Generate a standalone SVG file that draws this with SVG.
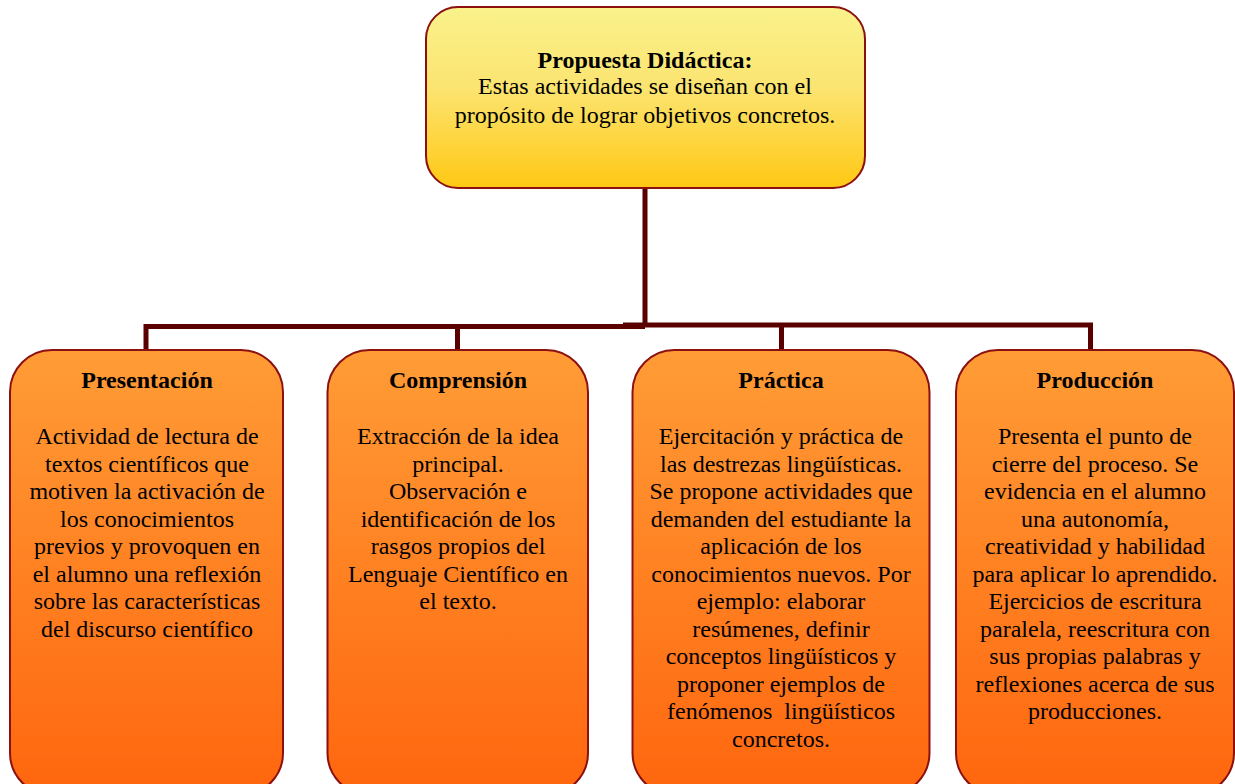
<svg xmlns="http://www.w3.org/2000/svg" width="1235" height="784" viewBox="0 0 1235 784">
<defs>
<linearGradient id="gTop" x1="0" y1="0" x2="0" y2="1">
<stop offset="0" stop-color="#FAF28C"/>
<stop offset="0.45" stop-color="#FBE470"/>
<stop offset="1" stop-color="#FFC813"/>
</linearGradient>
<linearGradient id="gBox" x1="0" y1="0" x2="0" y2="1">
<stop offset="0" stop-color="#FF9C36"/>
<stop offset="1" stop-color="#FF660E"/>
</linearGradient>
</defs>
<style>
.top{fill:url(#gTop);stroke:#8B1010;stroke-width:2}
.box{fill:url(#gBox);stroke:#8B1010;stroke-width:2}
.conn{stroke:#5A0000;stroke-width:5;fill:none;stroke-linecap:butt}
text{font-family:"Liberation Serif","Times New Roman",serif;fill:#000;text-anchor:middle;font-size:24px}
.t{font-weight:bold}
</style>
<rect width="1235" height="784" fill="#fff"/>
<g id="connectors">
<line class="conn" x1="645" y1="188" x2="645" y2="326"/>
<polyline class="conn" points="146,350 146,326.5 645,326.5"/>
<line class="conn" x1="457.5" y1="326.5" x2="457.5" y2="350"/>
<polyline class="conn" points="623,325 1090.5,325 1090.5,350"/>
<line class="conn" x1="781.5" y1="325" x2="781.5" y2="350"/>
</g>
<g id="top">
<rect class="top" x="426" y="7" width="439" height="181" rx="32"/>
<text class="t" x="645" y="68">Propuesta Didáctica:</text>
<text x="645" y="94">Estas actividades se diseñan con el</text>
<text x="645" y="123">propósito de lograr objetivos concretos.</text>
</g>
<g id="presentacion">
<rect class="box" x="10" y="350" width="273" height="445" rx="42"/>
<text class="t" x="147" y="388">Presentación</text>
<text x="147" y="444">Actividad de lectura de</text>
<text x="147" y="471.5">textos científicos que</text>
<text x="147" y="499">motiven la activación de</text>
<text x="147" y="526.5">los conocimientos</text>
<text x="147" y="554">previos y provoquen en</text>
<text x="147" y="581.5">el alumno una reflexión</text>
<text x="147" y="609">sobre las características</text>
<text x="147" y="636.5">del discurso científico</text>
</g>
<g id="comprension">
<rect class="box" x="327.5" y="350" width="260.5" height="445" rx="42"/>
<text class="t" x="458" y="388">Comprensión</text>
<text x="458" y="444">Extracción de la idea</text>
<text x="458" y="471.5">principal.</text>
<text x="458" y="499">Observación e</text>
<text x="458" y="526.5">identificación de los</text>
<text x="458" y="554">rasgos propios del</text>
<text x="458" y="581.5">Lenguaje Científico en</text>
<text x="458" y="609">el texto.</text>
</g>
<g id="practica">
<rect class="box" x="632.5" y="350" width="297" height="445" rx="42"/>
<text class="t" x="781" y="388">Práctica</text>
<text x="781" y="444">Ejercitación y práctica de</text>
<text x="781" y="471.5">las destrezas lingüísticas.</text>
<text x="781" y="499">Se propone actividades que</text>
<text x="781" y="526.5">demanden del estudiante la</text>
<text x="781" y="554">aplicación de los</text>
<text x="781" y="581.5">conocimientos nuevos. Por</text>
<text x="781" y="609">ejemplo: elaborar</text>
<text x="781" y="636.5">resúmenes, definir</text>
<text x="781" y="664">conceptos lingüísticos y</text>
<text x="781" y="691.5">proponer ejemplos de</text>
<text x="781" y="719" xml:space="preserve">fenómenos  lingüísticos</text>
<text x="781" y="746.5">concretos.</text>
</g>
<g id="produccion">
<rect class="box" x="956" y="350" width="278" height="445" rx="42"/>
<text class="t" x="1095" y="388">Producción</text>
<text x="1095" y="444">Presenta el punto de</text>
<text x="1095" y="471.5">cierre del proceso. Se</text>
<text x="1095" y="499">evidencia en el alumno</text>
<text x="1095" y="526.5">una autonomía,</text>
<text x="1095" y="554">creatividad y habilidad</text>
<text x="1095" y="581.5">para aplicar lo aprendido.</text>
<text x="1095" y="609">Ejercicios de escritura</text>
<text x="1095" y="636.5">paralela, reescritura con</text>
<text x="1095" y="664">sus propias palabras y</text>
<text x="1095" y="691.5">reflexiones acerca de sus</text>
<text x="1095" y="719">producciones.</text>
</g>
</svg>
